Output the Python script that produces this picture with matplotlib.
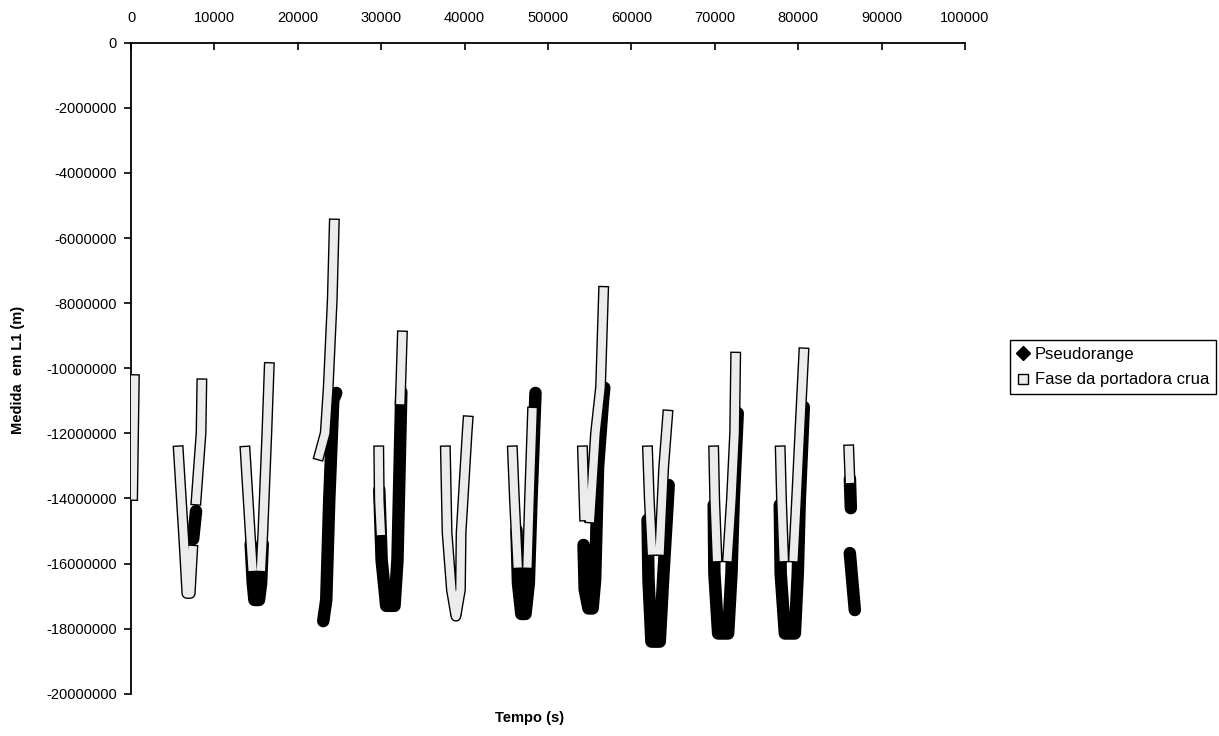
import numpy as np
import matplotlib
matplotlib.use("Agg")
import matplotlib.pyplot as plt
from matplotlib import patheffects as pe
from matplotlib.lines import Line2D

# ---------------- data (time in s, measurement in millions of metres) ----------------
x_ticks = [0, 10000, 20000, 30000, 40000, 50000, 60000, 70000, 80000, 90000, 100000]
x_tick_labels = ["0", "10000", "20000", "30000", "40000", "50000",
                 "60000", "70000", "80000", "90000", "100000"]
y_ticks = [0, -2e6, -4e6, -6e6, -8e6, -10e6, -12e6, -14e6, -16e6, -18e6, -20e6]
y_tick_labels = ["0", "-2000000", "-4000000", "-6000000", "-8000000", "-10000000",
                 "-12000000", "-14000000", "-16000000", "-18000000", "-20000000"]

# Fase da portadora crua (raw carrier phase), pass by pass, segments split by gaps
fase_p1_t = [200, 400]
fase_p1_y = [-13.91, -10.35]
fase_p2a_t = [5680, 6360, 6700, 7100, 7390]
fase_p2a_y = [-12.54, -15.37, -16.92, -16.92, -15.59]
fase_p2b_t = [7810, 8400, 8490]
fase_p2b_y = [-14.05, -11.99, -10.48]
fase_p3a_t = [13690, 14290, 14550]
fase_p3a_y = [-12.55, -15.06, -16.10]
fase_p3b_t = [15600, 15810, 16290, 16570]
fase_p3b_y = [-16.10, -15.06, -11.99, -9.98]
fase_p4_t = [24370, 24130, 23650, 23290, 22570]
fase_p4_y = [-5.57, -7.90, -10.58, -11.99, -12.67]
fase_p5a_t = [29710, 29770, 29950]
fase_p5a_y = [-12.54, -14.05, -15.00]
fase_p5b_t = [32290, 32530]
fase_p5b_y = [-10.98, -9.01]
fase_p6_t = [37700, 37900, 38420, 38960, 39500, 39580, 40300, 40400]
fase_p6_y = [-12.54, -15.06, -16.81, -17.62, -16.81, -15.06, -11.99, -11.62]
fase_p7a_t = [45740, 45980, 46350]
fase_p7a_y = [-12.54, -14.05, -16.00]
fase_p7b_t = [47550, 47780, 48140]
fase_p7b_y = [-16.00, -14.05, -11.35]
fase_p8a_t = [54140, 54380]
fase_p8a_y = [-12.54, -14.54]
fase_p8b_t = [56660, 56300, 55700, 55190, 55050]
fase_p8b_y = [-7.64, -10.58, -11.99, -14.05, -14.60]
fase_p9a_t = [61940, 62150, 62450]
fase_p9a_y = [-12.54, -14.05, -15.60]
fase_p9b_t = [63400, 63870, 64350]
fase_p9b_y = [-15.60, -13.04, -11.44]
fase_p10a_t = [69870, 69990, 70250]
fase_p10a_y = [-12.54, -14.05, -15.80]
fase_p10b_t = [71550, 71990, 72380, 72500]
fase_p10b_y = [-15.80, -14.05, -11.99, -9.66]
fase_p11a_t = [77850, 78000, 78250]
fase_p11a_y = [-12.54, -14.05, -15.80]
fase_p11b_t = [79450, 79800, 80190, 80670]
fase_p11b_y = [-15.80, -14.05, -11.99, -9.53]
fase_p12_t = [86070, 86200]
fase_p12_y = [-12.51, -13.40]

# Pseudorange, pass by pass
pr_p2_t = [7450, 7800]
pr_p2_y = [-15.25, -14.39]
pr_p3_t = [14350, 14600, 14800, 15350, 15600, 15800]
pr_p3_y = [-15.40, -16.60, -17.12, -17.12, -16.60, -15.40]
pr_p4_t = [23050, 23410, 23770, 24250, 24610]
pr_p4_y = [-17.77, -17.12, -14.05, -10.98, -10.76]
pr_p5_t = [29770, 30050, 30600, 31600, 31950, 32170, 32410]
pr_p5_y = [-13.74, -15.89, -17.30, -17.30, -15.89, -13.44, -10.73]
pr_p7_t = [46220, 46400, 46800, 47300, 47700, 48020, 48500]
pr_p7_y = [-14.97, -16.60, -17.55, -17.55, -16.60, -14.05, -10.76]
pr_p8_t = [54260, 54400, 54850, 55350, 55650, 56000, 56600, 56750]
pr_p8_y = [-15.43, -16.80, -17.38, -17.38, -16.50, -13.04, -10.98, -10.60]
pr_p9_t = [61940, 62050, 62400, 63400, 63800, 64230, 64470]
pr_p9_y = [-14.66, -16.50, -18.40, -18.40, -16.50, -14.66, -13.59]
pr_p10_t = [69870, 69950, 70400, 71600, 72000, 72270, 72750]
pr_p10_y = [-14.20, -16.30, -18.15, -18.15, -16.30, -14.05, -11.38]
pr_p11_t = [77790, 77900, 78400, 79600, 79950, 80190, 80670]
pr_p11_y = [-14.20, -16.30, -18.15, -18.15, -16.30, -14.05, -11.19]
pr_p12a_t = [86200, 86310]
pr_p12a_y = [-13.40, -14.30]
pr_p12b_t = [86190, 86790]
pr_p12b_y = [-15.68, -17.43]


def joined(pairs):
    ts, ys = [], []
    for t, y in pairs:
        ts += list(t) + [np.nan]
        ys += list(y) + [np.nan]
    return np.array(ts, float), np.array(ys, float) * 1e6


fase_t, fase_y = joined([
    (fase_p1_t, fase_p1_y), (fase_p2a_t, fase_p2a_y), (fase_p2b_t, fase_p2b_y),
    (fase_p3a_t, fase_p3a_y), (fase_p3b_t, fase_p3b_y), (fase_p4_t, fase_p4_y),
    (fase_p5a_t, fase_p5a_y), (fase_p5b_t, fase_p5b_y), (fase_p6_t, fase_p6_y),
    (fase_p7a_t, fase_p7a_y), (fase_p7b_t, fase_p7b_y), (fase_p8a_t, fase_p8a_y),
    (fase_p8b_t, fase_p8b_y), (fase_p9a_t, fase_p9a_y), (fase_p9b_t, fase_p9b_y),
    (fase_p10a_t, fase_p10a_y), (fase_p10b_t, fase_p10b_y), (fase_p11a_t, fase_p11a_y),
    (fase_p11b_t, fase_p11b_y), (fase_p12_t, fase_p12_y)])

pr_t, pr_y = joined([
    (pr_p2_t, pr_p2_y), (pr_p3_t, pr_p3_y), (pr_p4_t, pr_p4_y), (pr_p5_t, pr_p5_y),
    (pr_p7_t, pr_p7_y), (pr_p8_t, pr_p8_y), (pr_p9_t, pr_p9_y), (pr_p10_t, pr_p10_y),
    (pr_p11_t, pr_p11_y), (pr_p12a_t, pr_p12a_y), (pr_p12b_t, pr_p12b_y)])

# ---------------- figure ----------------
plt.rcParams['font.family'] = ['Liberation Sans', 'DejaVu Sans']
fig = plt.figure(figsize=(12.19, 7.36), dpi=100)
fig.patch.set_facecolor('white')
ax = fig.add_axes([131 / 1219, 1 - 693.7 / 736, (965 - 131) / 1219, (693.7 - 42.7) / 736])

fase_fill = '#ececec'
ax.plot(pr_t, pr_y, color='black', lw=9.0, solid_capstyle='round',
        solid_joinstyle='round', zorder=2)
ax.plot(fase_t, fase_y, color=fase_fill, lw=5.9, solid_capstyle='projecting',
        solid_joinstyle='round', zorder=3,
        path_effects=[pe.Stroke(linewidth=7.9, foreground='black'), pe.Normal()])

ax.set_xlim(0, 100000)
ax.set_ylim(-20e6, 0)
ax.set_xticks(x_ticks)
ax.set_xticklabels(x_tick_labels)
ax.set_yticks(y_ticks)
ax.set_yticklabels(y_tick_labels)
ax.xaxis.tick_top()
ax.tick_params(axis='x', direction='in', length=5, width=1.2, pad=13, labelsize=10.5)
ax.tick_params(axis='y', direction='out', length=5, width=1.2, pad=5, labelsize=10.5)
for s in ['right', 'bottom']:
    ax.spines[s].set_visible(False)
for s in ['top', 'left']:
    ax.spines[s].set_linewidth(1.3)
    ax.spines[s].set_color('black')

fig.text(530 / 1219, 1 - 718 / 736, 'Tempo (s)', ha='center', va='center',
         fontsize=10.5, fontweight='bold')
fig.text(18 / 1219, 1 - 370 / 736, 'Medida  em L1 (m)', ha='center', va='center',
         rotation=90, fontsize=10.5, fontweight='bold')

handles = [
    Line2D([], [], marker='D', color='black', linestyle='none', markersize=7),
    Line2D([], [], marker='s', markerfacecolor=fase_fill, markeredgecolor='black',
           linestyle='none', markersize=7),
]
leg = fig.legend(handles, ['Pseudorange', 'Fase da portadora crua'],
                 loc='upper left', bbox_to_anchor=(1010 / 1219, 1 - 340 / 736),
                 frameon=True, fancybox=False, edgecolor='black', framealpha=1,
                 fontsize=12, handlelength=0.8, handletextpad=0.3,
                 borderpad=0.4, labelspacing=0.65, borderaxespad=0)
leg.get_frame().set_linewidth(1.0)

fig.savefig('out.png', dpi=100, facecolor='white')
